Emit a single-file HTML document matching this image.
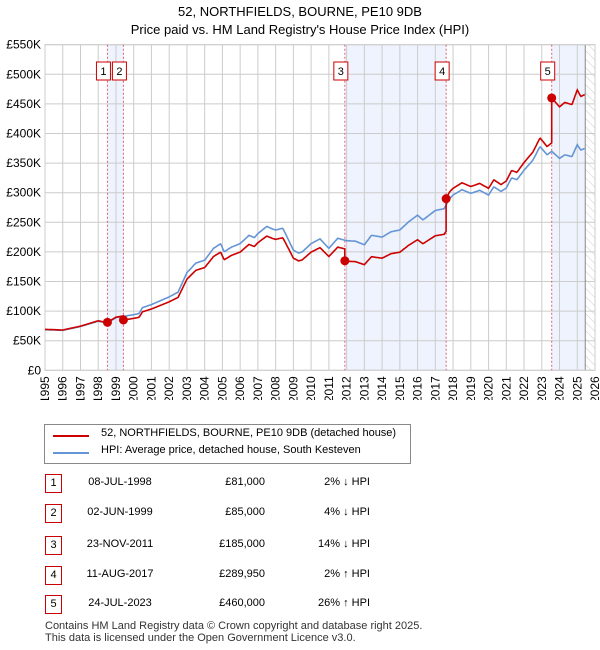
<!DOCTYPE html>
<html><head><meta charset="utf-8"><style>
body{margin:0;background:#fff;font-family:"Liberation Sans","DejaVu Sans",sans-serif;}
#wrap{position:relative;width:600px;height:650px;overflow:hidden}
.t{position:absolute;font-size:12px;color:#000}
</style></head><body><div id="wrap">
<svg id="chart" width="600" height="400" style="position:absolute;left:0;top:0"></svg>
<div class="t" style="left:0;width:600px;top:3px;text-align:center;font-size:13px;line-height:18px">52, NORTHFIELDS, BOURNE, PE10 9DB<br>Price paid vs. HM Land Registry's House Price Index (HPI)</div>
<div style="position:absolute;left:44px;top:424px;width:365px;height:38px;border:1px solid #888">
 <div style="position:absolute;left:8px;top:10px;width:36px;border-top:2px solid #cc0000"></div>
 <div class="t" style="left:56px;top:2px;font-size:11px">52, NORTHFIELDS, BOURNE, PE10 9DB (detached house)</div>
 <div style="position:absolute;left:8px;top:27px;width:36px;border-top:2px solid #6495d6"></div>
 <div class="t" style="left:56px;top:19px;font-size:11px">HPI: Average price, detached house, South Kesteven</div>
</div>
<div id="tbl"></div>
<div class="t" style="left:45px;top:620px;font-size:11px;line-height:12px;color:#333">Contains HM Land Registry data © Crown copyright and database right 2025.<br>This data is licensed under the Open Government Licence v3.0.</div>
</div>
<script>
const hpiYears=[1995,1996,1997,1998,1998.5,1999,2000,2000.3,2000.5,2001,2002,2002.5,2003,2003.5,2004,2004.5,2004.9,2005.1,2005.5,2006,2006.5,2006.8,2007,2007.5,2007.8,2008,2008.4,2008.6,2009,2009.3,2009.5,2010,2010.5,2011,2011.5,2012,2012.5,2013,2013.4,2014,2014.5,2015,2015.5,2016,2016.3,2017,2017.5,2017.8,2018,2018.5,2019,2019.5,2020,2020.3,2020.7,2021,2021.3,2021.6,2022,2022.5,2022.9,2023.3,2023.56,2024,2024.3,2024.7,2025,2025.2,2025.45];
const hpiValues=[68.6,67.5,74,83,80,89,94,96,106,111,124,132,165,181,186,206,214,200,208,214,228,224,231,243,239,237,240,228,203,198,200,214,222,206,223,219,218,212,228,225,234,237,251,262,254,270,273,290,296,305,299,304,296,310,302,308,325,322,338,355,378,364,370,358,364,361,381,372,375];
const saleLabels=["1","2","3","4","5"];
const saleDates=["08-JUL-1998","02-JUN-1999","23-NOV-2011","11-AUG-2017","24-JUL-2023"];
const saleYears=[1998.52,1999.42,2011.9,2017.61,2023.56];
const salePrices=[81,85,185,289.95,460];
const salePriceText=["£81,000","£85,000","£185,000","£289,950","£460,000"];
const saleHpiText=["2% ↓ HPI","4% ↓ HPI","14% ↓ HPI","2% ↑ HPI","26% ↑ HPI"];
const yTicks=[0,50,100,150,200,250,300,350,400,450,500,550];
const xTicks=[1995,1996,1997,1998,1999,2000,2001,2002,2003,2004,2005,2006,2007,2008,2009,2010,2011,2012,2013,2014,2015,2016,2017,2018,2019,2020,2021,2022,2023,2024,2025,2026];

const X0=45,X1=595,Y0=370.3,Y1=44.7;
const xs=y=>X0+(y-1995)/31*(X1-X0);
const ys=v=>Y0-v/550*(Y0-Y1);
const NS="http://www.w3.org/2000/svg";
const svg=document.getElementById('chart');
function mk(tag,at,parent){const e=document.createElementNS(NS,tag);for(const k in at)e.setAttribute(k,at[k]);(parent||svg).appendChild(e);return e;}
function hpiAt(t){if(t<=hpiYears[0])return hpiValues[0];for(let i=1;i<hpiYears.length;i++){if(t<=hpiYears[i]){const f=(t-hpiYears[i-1])/(hpiYears[i]-hpiYears[i-1]);return hpiValues[i-1]+f*(hpiValues[i]-hpiValues[i-1]);}}return hpiValues[hpiValues.length-1];}
const endYear=hpiYears[hpiYears.length-1];
const defs=mk('defs',{});
const pat=mk('pattern',{id:'hatch',width:6,height:6,patternUnits:'userSpaceOnUse',patternTransform:'rotate(-45)'},defs);
mk('line',{x1:0,y1:0,x2:0,y2:6,stroke:'#ccc','stroke-width':1},pat);
for(const [a,b] of [[0,1],[2,3],[4,-1]]){
 const x1=xs(saleYears[a]),x2=b<0?xs(endYear):xs(saleYears[b]);
 const r=mk('rect',{x:x1,y:Y1,width:x2-x1,height:Y0-Y1,fill:'#eef3fd'});
 
}
const hr=mk('rect',{x:xs(endYear),y:Y1,width:X1-xs(endYear),height:Y0-Y1,fill:'url(#hatch)'});

yTicks.forEach(v=>{mk('line',{x1:X0,x2:X1,y1:ys(v),y2:ys(v),stroke:'#ccc','stroke-width':1});
 const t=mk('text',{x:X0-4,y:ys(v)+4,'text-anchor':'end','font-size':12});t.textContent='£'+(v?v+'K':'0');
 });
xTicks.forEach(y=>{mk('line',{x1:xs(y),x2:xs(y),y1:Y1,y2:Y0,stroke:'#ccc','stroke-width':1});
 const t=mk('text',{x:0,y:0,'text-anchor':'end','font-size':12,transform:`translate(${xs(y)+4},${Y0+6}) rotate(-90)`});t.textContent=y;
 });
mk('line',{x1:xs(endYear),x2:xs(endYear),y1:Y1,y2:Y0,stroke:'#888','stroke-width':1});
mk('rect',{x:X0,y:Y1,width:X1-X0,height:Y0-Y1,fill:'none',stroke:'#ccc'});
saleYears.forEach(s=>mk('line',{x1:xs(s),x2:xs(s),y1:Y1,y2:Y0,stroke:'#e06070','stroke-width':1,'stroke-dasharray':'2,2'}));
let d='';for(let t=1995;t<=endYear+1e-6;t+=1/24){d+=(d?'L':'M')+xs(t).toFixed(1)+','+ys(hpiAt(t)).toFixed(1);}
const hl=mk('path',{d,fill:'none',stroke:'#6495d6','stroke-width':1.6});

function priceAt(t){let i=0;for(let k=0;k<saleYears.length;k++)if(t>=saleYears[k])i=k;return salePrices[i]*hpiAt(t)/hpiAt(saleYears[i]);}
let pts=[];for(let t=1995;t<=endYear+1e-6;t+=1/24)pts.push(t);
saleYears.forEach(s=>{pts.push(s-1e-4);pts.push(s);});pts.sort((a,b)=>a-b);
let d2='';pts.forEach(t=>{d2+=(d2?'L':'M')+xs(t).toFixed(1)+','+ys(priceAt(t)).toFixed(1);});
const pl=mk('path',{d:d2,fill:'none',stroke:'#cc0000','stroke-width':1.6});

saleYears.forEach((s,i)=>{const c=mk('circle',{cx:xs(s),cy:ys(salePrices[i]),r:4.5,fill:'#cc0000'});
 
 const bx=xs(s)-4;
 const g=mk('g',{});
 mk('rect',{x:bx-7,y:62,width:14,height:18,fill:'#fff',stroke:'#cc0000'},g);
 const t=mk('text',{x:bx,y:75,'text-anchor':'middle','font-size':11},g);t.textContent=saleLabels[i];});
const tbl=document.getElementById('tbl');const rowY=[483,513,545,575,604];
saleLabels.forEach((l,i)=>{const y=rowY[i];
 const r=document.createElement('div');
 r.innerHTML=`<div style="position:absolute;left:45px;top:${y-9}px;width:15px;height:17px;border:1px solid #cc0000;font-size:11px;text-align:center;line-height:17px">${l}</div>
 <div class="t" style="left:70px;width:100px;top:${y-7}px;text-align:center;font-size:11px">${saleDates[i]}</div>
 <div class="t" style="left:165px;width:100px;top:${y-7}px;text-align:right;font-size:11px">${salePriceText[i]}</div>
 <div class="t" style="left:270px;width:100px;top:${y-7}px;text-align:right;font-size:11px">${saleHpiText[i]}</div>`;
 tbl.appendChild(r);});
</script></body></html>
